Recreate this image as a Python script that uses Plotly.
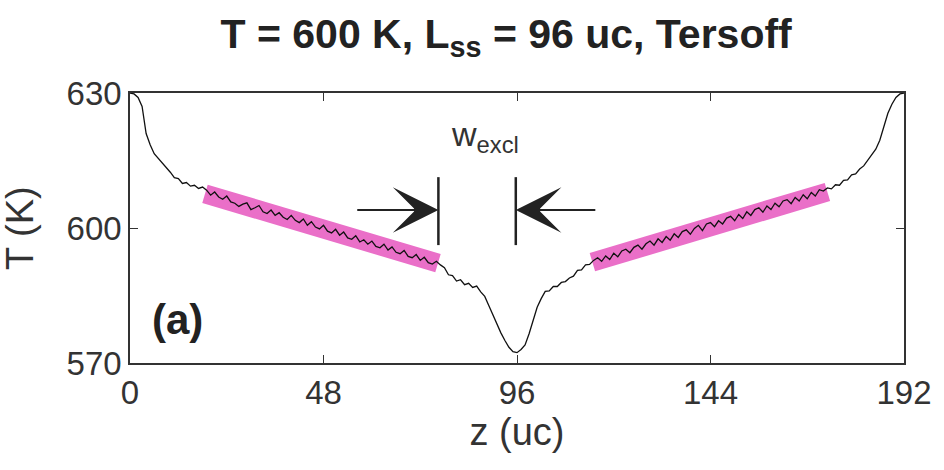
import plotly.graph_objects as go

# ---- data ----
z_uc = list(range(0, 193))
T_K = [
    630.0, 629.8, 629.0, 627.0, 621.0, 618.5, 616.5, 615.5, 614.5, 613.3,
    612.4, 611.2, 611.0, 609.9, 610.1, 609.3, 609.5, 608.8, 609.1, 608.4,
    607.3, 608.0, 606.9, 606.4, 607.1, 605.8, 605.5, 604.8, 605.3, 605.6,
    604.1, 604.5, 605.0, 603.6, 603.2, 604.0, 602.8, 603.4, 602.4, 601.9,
    602.8, 601.7, 601.2, 602.0, 600.6, 601.4, 600.2, 599.8, 600.6, 599.3,
    598.9, 599.7, 598.4, 599.1, 597.8, 597.5, 598.3, 596.9, 597.4, 596.4,
    597.1, 595.9, 595.6, 596.4, 595.1, 595.8, 594.6, 594.3, 595.0, 593.7,
    593.4, 594.1, 592.8, 593.5, 592.3, 592.0, 592.6, 591.8, 591.2, 589.6,
    589.4, 588.2, 588.5, 587.4, 587.7, 586.8, 587.1, 585.8, 584.8, 582.8,
    580.8, 578.5, 576.7, 575.0, 573.5, 572.5, 572.3, 573.0, 574.0, 576.5,
    579.5, 582.4, 584.3, 585.9, 586.0, 587.0, 587.0, 587.9, 588.1, 588.9,
    589.3, 590.6, 590.7, 591.8, 591.9, 592.8, 593.4, 592.6, 593.8, 593.0,
    594.4, 593.6, 594.9, 595.3, 594.5, 595.7, 596.2, 595.3, 596.5, 597.1,
    596.2, 597.6, 596.8, 598.1, 597.3, 598.7, 597.9, 599.2, 599.6, 598.6,
    599.9, 600.6, 599.4, 600.9, 601.2, 600.3, 601.6, 600.9, 602.2, 602.6,
    601.6, 603.0, 602.1, 603.6, 602.8, 604.1, 604.5, 603.5, 604.9, 604.1,
    605.5, 604.7, 606.0, 606.3, 605.4, 606.8, 606.0, 607.4, 606.5, 607.9,
    607.1, 608.5, 608.2, 608.9, 608.7, 609.6, 609.5, 610.6, 610.7, 611.8,
    612.0, 613.1, 613.8, 615.0, 616.3, 617.5, 619.5, 622.5, 625.5, 627.5,
    629.0, 629.8, 630.0,
]

# linear fit bands (endpoints of fitted lines)
fit_left_z = [18.6, 76.4]
fit_left_T = [607.6, 592.2]
fit_right_z = [114.7, 173.0]
fit_right_T = [592.4, 608.0]

x_ticks = [0, 48, 96, 144, 192]
y_ticks = [570, 600, 630]

# exclusion-width markers
excl_left_z = 76.5
excl_right_z = 95.7
excl_T_range = [596.2, 611.3]
arrow_T = 604.0
arrow_left_tail_z = 56.0
arrow_right_tail_z = 115.8

title_text = "T = 600 K, L<sub>ss</sub> = 96 uc, Tersoff"

FONT = "Liberation Sans, Arial, Helvetica, sans-serif"
AX = "#333333"
PINK = "#EA6FC8"

fig = go.Figure()
for bz, bT in [(fit_left_z, fit_left_T), (fit_right_z, fit_right_T)]:
    fig.add_trace(go.Scatter(x=bz, y=bT, mode="lines",
                             line=dict(color=PINK, width=19),
                             hoverinfo="skip", showlegend=False))
fig.add_trace(go.Scatter(x=z_uc, y=T_K, mode="lines",
                         line=dict(color="#111111", width=1.3),
                         showlegend=False))

for zx in [excl_left_z, excl_right_z]:
    fig.add_shape(type="line", xref="x", yref="y", x0=zx, x1=zx,
                  y0=excl_T_range[0], y1=excl_T_range[1],
                  line=dict(color="#222222", width=2.5))

for tip, tail in [(excl_left_z, arrow_left_tail_z), (excl_right_z, arrow_right_tail_z)]:
    fig.add_annotation(x=tip, y=arrow_T, ax=tail, ay=arrow_T, xref="x", yref="y",
                       axref="x", ayref="y", text="", showarrow=True,
                       arrowhead=3, arrowsize=3.8, arrowwidth=2,
                       arrowcolor="#222222")

fig.add_annotation(x=88.0, y=620.3, xref="x", yref="y",
                   text="w<sub>excl</sub>", showarrow=False,
                   font=dict(family=FONT, size=34, color="#333333"))

fig.add_annotation(x=11.7, y=579.6, xref="x", yref="y", text="<b>(a)</b>",
                   showarrow=False, font=dict(family=FONT, size=42, color="#222222"))

# y-axis title placed as rotated text left of the tick labels
fig.add_annotation(x=-0.142, y=0.5, xref="paper", yref="paper", text="T (K)",
                   textangle=-90, showarrow=False, xanchor="center", yanchor="middle",
                   font=dict(family=FONT, size=38, color="#333333"))

fig.update_layout(
    width=944, height=470,
    margin=dict(l=130, r=35, t=93, b=107),
    paper_bgcolor="white", plot_bgcolor="white",
    title=dict(text="<b>" + title_text + "</b>", x=0.486, xref="paper",
               y=1 - 34 / 470, yref="container", yanchor="middle",
               font=dict(family=FONT, size=41, color="#222222")),
)
axis_common = dict(showgrid=False, zeroline=False, showline=True, linecolor=AX,
                   linewidth=1.5, mirror="ticks", ticks="inside", ticklen=8,
                   tickwidth=1.3, tickcolor=AX,
                   tickfont=dict(family=FONT, size=33, color="#333333"))
fig.update_xaxes(range=[0, 192], tickvals=x_ticks, ticktext=[str(v) for v in x_ticks],
                 title=dict(text="z (uc)", font=dict(family=FONT, size=38, color="#333333"),
                            standoff=8),
                 **axis_common)
fig.update_yaxes(range=[570, 630], tickvals=y_ticks, ticktext=[str(v) for v in y_ticks],
                 **axis_common)

fig.write_html("out.html")
